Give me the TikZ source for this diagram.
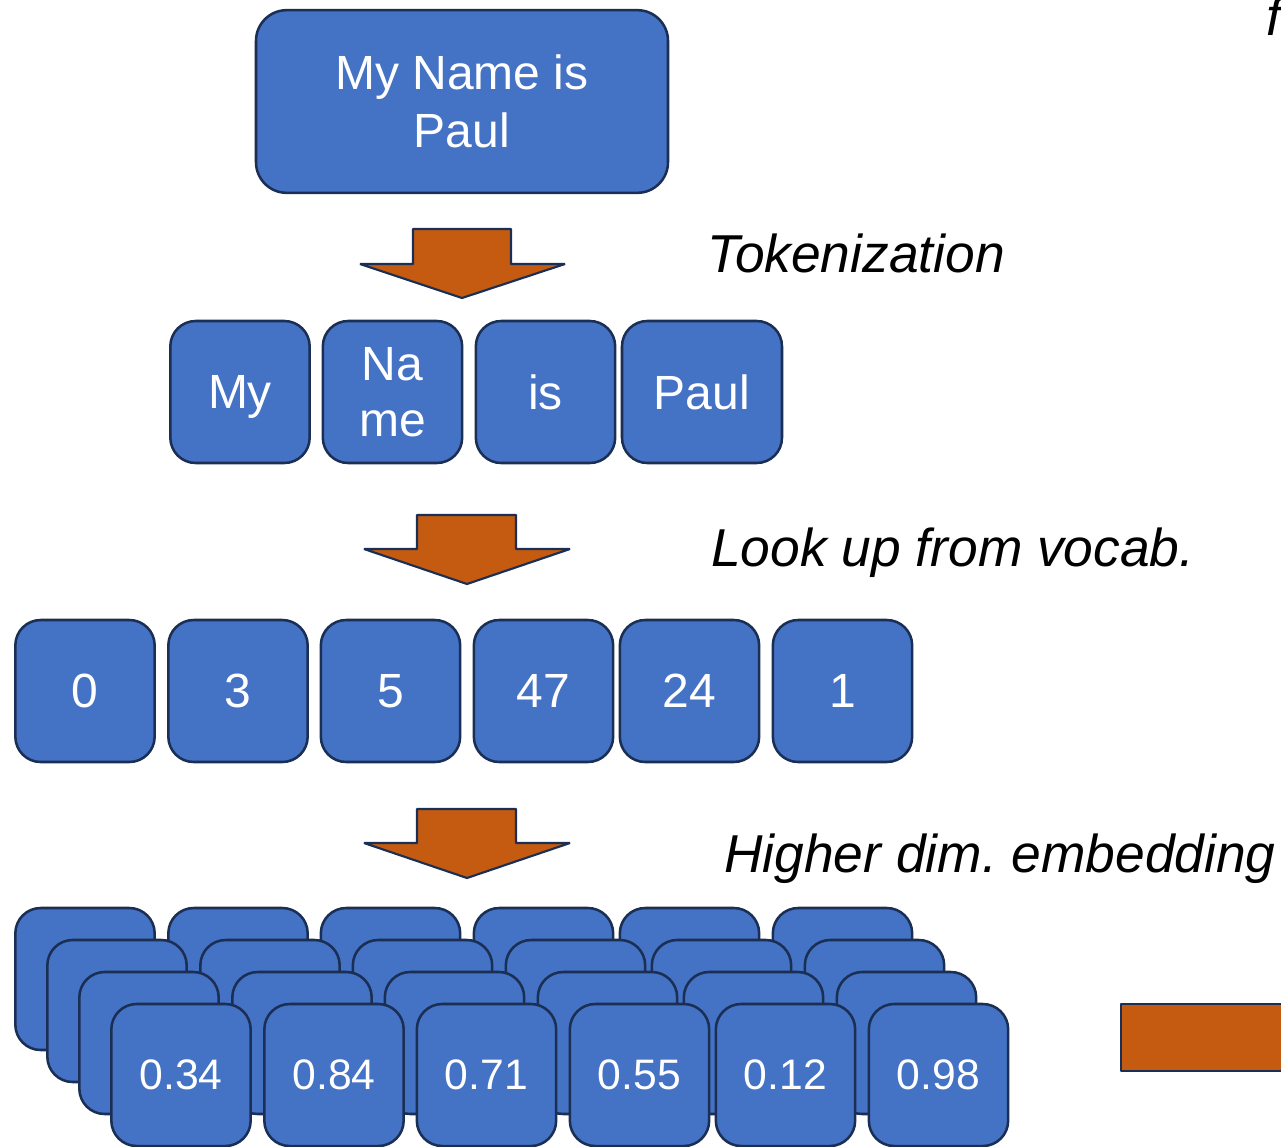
\documentclass[tikz,border=0pt]{standalone}
\usepackage{fontspec}
\setmainfont{Liberation Sans}
\frenchspacing
\definecolor{boxblue}{HTML}{4472C4}
\definecolor{edgenavy}{HTML}{1B2F55}
\definecolor{burnt}{HTML}{C55A11}
\begin{document}
\begin{tikzpicture}[x=0.75pt,y=-0.75pt,
  tile/.style={draw=edgenavy,fill=boxblue,line width=1.9pt,rounded corners=19pt,
    minimum width=104.5pt,minimum height=106.5pt,inner sep=0pt,text=white,
    font=\fontsize{36}{42}\selectfont,align=center},
  wide/.style={tile,minimum width=120pt},
  front/.style={tile,font=\fontsize{32}{38}\selectfont},
  blockarrow/.style={draw=edgenavy,fill=burnt,line width=1.6pt,line join=bevel},
  caption/.style={font=\fontsize{40}{48}\selectfont\itshape,anchor=base west,inner sep=0pt}]
\useasboundingbox (0,0) rectangle (1281,1146);
\clip (0,0) rectangle (1281,1146);

% sentence
\node[tile,minimum width=309pt,minimum height=137pt,rounded corners=23pt,
  font=\fontsize{36}{43.5}\selectfont] (sent) at (462,101.5) {My Name is\\Paul};

% tokenization arrow and caption
\draw[blockarrow] (413,229) -- (511,229) -- (511,264) -- (565,264) -- (462,298)
  -- (360,264) -- (413,264) -- cycle;
\node[caption] (lab1) at (707,272) {Tokenization};

% tokens
\node[tile,text depth=0pt] (tmy) at (240,392) {My};
\node[tile] (tname) at (392.5,392) {Na\\me};
\node[tile] (tis) at (545.5,392) {is};
\node[wide] (tpaul) at (702,392) {Paul};

% vocabulary lookup arrow and caption
\draw[blockarrow] (417,515) -- (516,515) -- (516,549) -- (570,549) -- (467,584)
  -- (364,549) -- (417,549) -- cycle;
\node[caption] (lab2) at (711,566) {Look up from vocab.};

% token ids
\node[tile] (id0) at (85,691) {0};
\node[tile] (id1) at (238,691) {3};
\node[tile] (id2) at (390.5,691) {5};
\node[tile] (id3) at (543.5,691) {47};
\node[tile] (id4) at (689.5,691) {24};
\node[tile] (id5) at (842.5,691) {1};

% embedding arrow and caption
\draw[blockarrow] (417,809) -- (516,809) -- (516,843) -- (570,843) -- (467,878)
  -- (364,843) -- (417,843) -- cycle;
\node[caption] (lab3) at (724,872) {Higher dim. embedding};

% stacked embedding layers, back to front
\foreach \k in {0,1,2} {
  \foreach \cx [count=\i] in {85,238,390.5,543.5,689.5,842.5} {
    \node[tile] (e\k-\i) at (\cx+32*\k,979+32*\k) {};
  }
}
\node[front] (v1) at (181,1075) {0.34};
\node[front] (v2) at (334,1075) {0.84};
\node[front] (v3) at (486.5,1075) {0.71};
\node[front] (v4) at (639.5,1075) {0.55};
\node[front] (v5) at (785.5,1075) {0.12};
\node[front] (v6) at (938.5,1075) {0.98};

% next stage, partly outside the frame
\draw[blockarrow] (1121,1004) rectangle (1320,1071);
\node[caption] (lab4) at (1266,35) {f};
\end{tikzpicture}
\end{document}
